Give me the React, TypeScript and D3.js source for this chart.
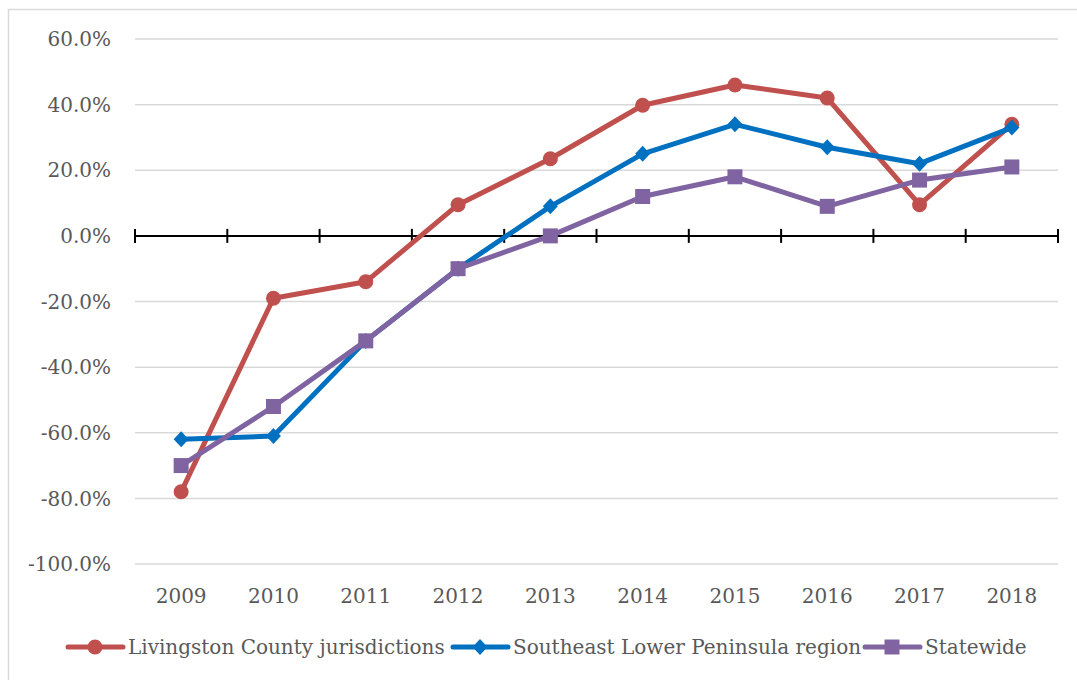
import React from "react";
import * as d3 from "d3";

const years = ["2009", "2010", "2011", "2012", "2013", "2014", "2015", "2016", "2017", "2018"];
const livingston = [-78, -19, -14, 9.5, 23.5, 39.8, 46, 42, 9.5, 34];
const southeast = [-62, -61, -32, -10, 9, 25, 34, 27, 22, 33];
const statewide = [-70, -52, -32, -10, 0, 12, 18, 9, 17, 21];
const yTicks = [60, 40, 20, 0, -20, -40, -60, -80, -100];
const seriesNames = ["Livingston County jurisdictions", "Southeast Lower Peninsula region", "Statewide"];
const seriesColors = ["#C0504D", "#0070C0", "#8064A2"];

const W = 1077;
const H = 680;
const left = 135;
const right = 1058;
const top = 39;
const bottom = 564;
const FONT = "'DejaVu Serif', serif";

function Marker({ kind, x, y, color }: { kind: number; x: number; y: number; color: string }) {
  if (kind === 0) return <circle cx={x} cy={y} r={7.5} fill={color} />;
  if (kind === 1)
    return <path d={`M${x},${y - 8}L${x + 7.5},${y}L${x},${y + 8}L${x - 7.5},${y}Z`} fill={color} />;
  return <rect x={x - 7.5} y={y - 7.5} width={15} height={15} fill={color} />;
}

export default function App() {
  const x = d3.scaleBand<string>().domain(years).range([left, right]);
  const y = d3.scaleLinear().domain([-100, 60]).range([bottom, top]);
  const cx = (yr: string) => (x(yr) as number) + x.bandwidth() / 2;
  const line = d3
    .line<number>()
    .x((_, i) => cx(years[i]))
    .y((v) => y(v));
  const series = [livingston, southeast, statewide];
  const legendX = [68, 453, 865];
  const legendY = 647;
  const boundaries = years.map((yr) => x(yr) as number).concat([right]);

  return (
    <svg
      width={W}
      height={H}
      style={{ position: "absolute", left: 0, top: 0, background: "#fff" }}
      fontFamily={FONT}
    >
      <rect x={8.5} y={9.5} width={1100} height={700} fill="#fff" stroke="#d9d9d9" strokeWidth={1.5} />
      {yTicks.map((t) => (
        <g key={t}>
          {t !== 0 && (
            <line x1={left} x2={right} y1={y(t)} y2={y(t)} stroke="#d9d9d9" strokeWidth={1.5} />
          )}
          <text x={111} y={y(t)} dy="0.36em" textAnchor="end" fontSize={20} fill="#595959">
            {t.toFixed(1) + "%"}
          </text>
        </g>
      ))}
      <line x1={left} x2={right} y1={y(0)} y2={y(0)} stroke="#000" strokeWidth={2} />
      {boundaries.map((b, i) => (
        <line key={i} x1={b} x2={b} y1={y(0) - 7} y2={y(0) + 7} stroke="#000" strokeWidth={2} />
      ))}
      {years.map((yr) => (
        <text key={yr} x={cx(yr)} y={596} dy="0.36em" textAnchor="middle" fontSize={20} fill="#595959">
          {yr}
        </text>
      ))}
      {series.map((s, k) => (
        <g key={k}>
          <path d={line(s) as string} fill="none" stroke={seriesColors[k]} strokeWidth={5} strokeLinejoin="round" />
          {s.map((v, i) => (
            <Marker key={i} kind={k} x={cx(years[i])} y={y(v)} color={seriesColors[k]} />
          ))}
        </g>
      ))}
      {seriesNames.map((n, k) => (
        <g key={n}>
          <line
            x1={legendX[k]}
            x2={legendX[k] + 55}
            y1={legendY}
            y2={legendY}
            stroke={seriesColors[k]}
            strokeWidth={5}
            strokeLinecap="round"
          />
          <Marker kind={k} x={legendX[k] + 27} y={legendY} color={seriesColors[k]} />
          <text x={legendX[k] + 60} y={legendY} dy="0.36em" fontSize={20} fill="#595959">
            {n}
          </text>
        </g>
      ))}
    </svg>
  );
}
